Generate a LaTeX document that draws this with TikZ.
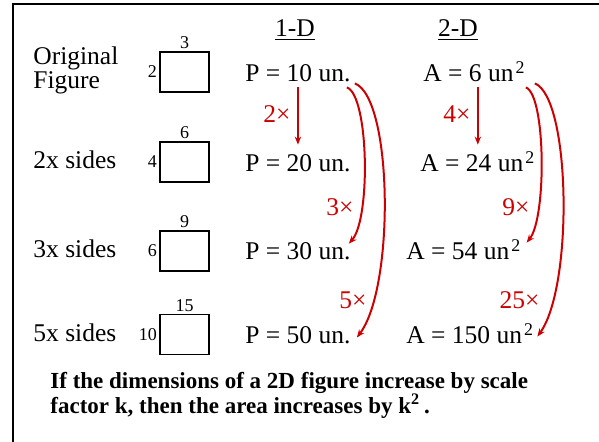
\documentclass[tikz,border=0pt]{standalone}
\usepackage{fontspec}
\setmainfont{Liberation Serif}
\usetikzlibrary{arrows.meta,positioning,calc}
\definecolor{accent}{HTML}{CC0000}

\begin{document}
\begin{tikzpicture}[x=0.5pt, y=-0.5pt,
    box/.style={draw, line width=0.7pt, minimum width=24.5pt, minimum height=20pt, inner sep=0pt},
    side/.style={font=\fontsize{9}{10}\selectfont, inner sep=1pt},
    rowname/.style={font=\fontsize{12.75}{12}\selectfont, anchor=west, align=left, inner sep=0pt},
    val/.style={font=\fontsize{12.75}{15}\selectfont, anchor=base west, inner sep=0pt, text height=8.5pt, text depth=0pt},
    factor/.style={font=\fontsize{12.75}{15}\selectfont, text=accent, anchor=east, inner sep=0pt},
    flow/.style={draw=accent, line width=1pt, -{Stealth[length=4pt, width=3.2pt]}}]
  \useasboundingbox (0,0) rectangle (599,442);
  \draw[line width=1pt] (13,460) -- (13,4) -- (620,4);
  \node[val, anchor=base] (hd1) at (295,37) {\underline{1-D}};
  \node[val, anchor=base] (hd2) at (458,37) {\underline{2-D}};
  \foreach \i/\y/\w/\h/\txt in {1/72/3/2/{Original\\Figure}, 2/162/6/4/2x sides, 3/251/9/6/3x sides, 4/334.5/15/10/5x sides} {
    \node[box] (r\i) at (184.5,\y) {};
    \node[side, above=0pt of r\i] (w\i) {\w};
    \node[side, left=0pt of r\i] (h\i) {\h};
    \node[rowname] (n\i) at (33,\y-2) {\txt};
  }
  \foreach \i/\y/\per in {1/82/10, 2/172/20, 3/260/30, 4/344/50}
    \node[val] (p\i) at (245,\y) {P = \per\ un.};
  \foreach \i/\x/\y/\area in {1/423/82/6, 2/420/172/24, 3/406/260/54, 4/406/344/150}
    \node[val] (a\i) at (\x,\y) {A = \area\ un\kern1pt\textsuperscript{2}};
  \node[factor] (f1) at (291,114) {2×};
  \node[factor] (f2) at (471,114) {4×};
  \node[factor] (f3) at (354,207) {3×};
  \node[factor] (f4) at (367,300) {5×};
  \node[factor] (f5) at (530,207) {9×};
  \node[factor] (f6) at (540,300) {25×};
  \draw[flow, shorten <=2.5pt, shorten >=5pt] (p1) -- (p2);
  \draw[flow, shorten <=2.5pt, shorten >=5pt] (a1.south -| a2) -- (a2.north);
  \draw[flow] ($(p1.south east)+(-4,5)$) .. controls +(22,8) and +(22,-25) .. ($(p3.north east)+(-2,1)$);
  \draw[flow] ($(p1.south east)+(4,1)$) .. controls +(38,15) and +(38,-50) .. ($(p4.east)+(6,2)$);
  \draw[flow] ($(a1.south east)+(0,5)$) .. controls +(20,8) and +(20,-25) .. ($(a3.north east)+(5,0)$);
  \draw[flow] ($(a1.south east)+(9,1)$) .. controls +(36,15) and +(36,-50) .. ($(a4.east)+(3,1)$);
  \node[font=\bfseries\fontsize{11.5}{12.5}\selectfont, anchor=north west, align=left, inner sep=0pt] (note) at (50,372)
    {If the dimensions of a 2D figure increase by scale\\factor k, then the area increases by k\textsuperscript{2}\,.};
\end{tikzpicture}
\end{document}
